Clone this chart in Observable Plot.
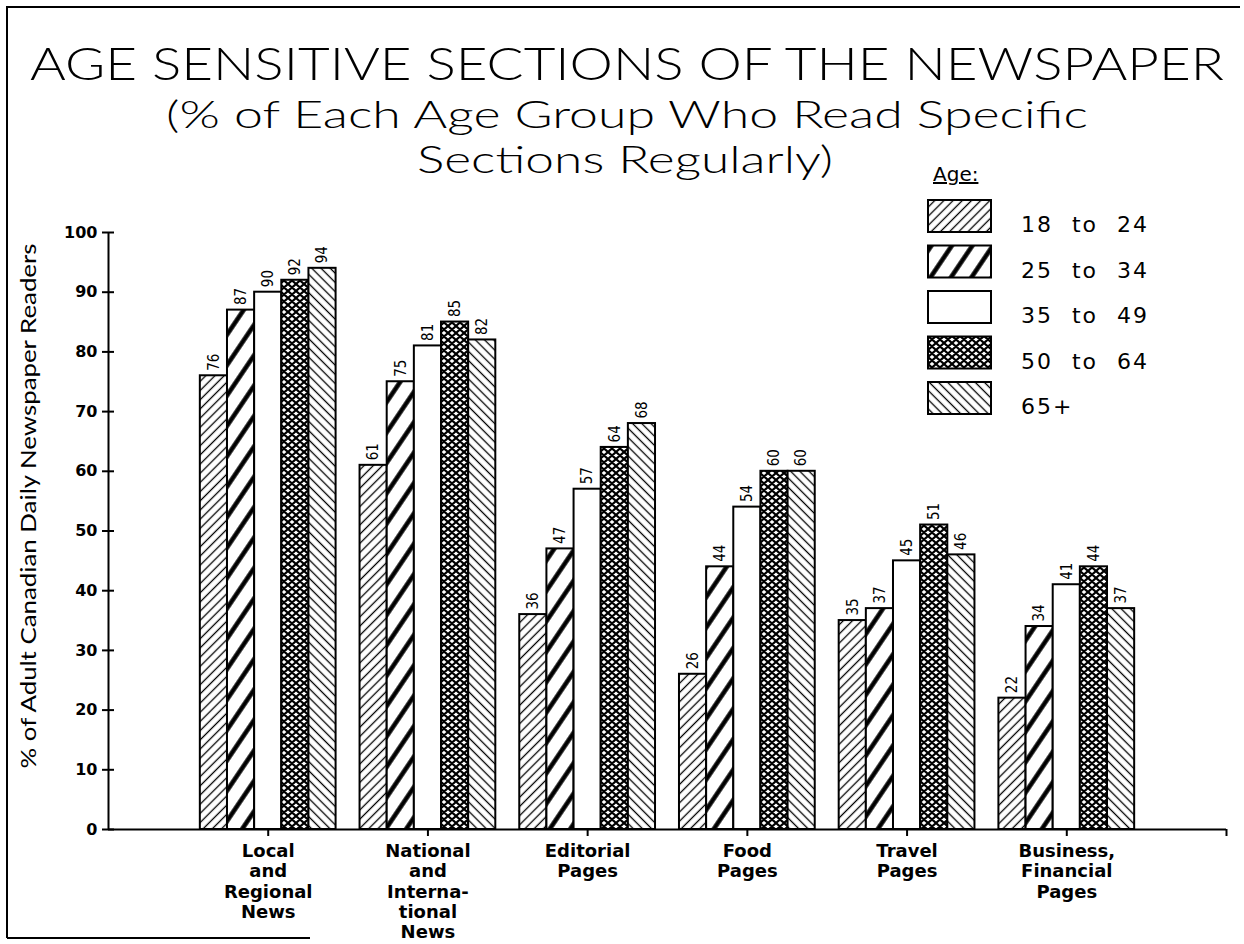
<!DOCTYPE html>
<html>
<head>
<meta charset="utf-8">
<script src="https://cdn.jsdelivr.net/npm/d3@7"></script>
<script src="https://cdn.jsdelivr.net/npm/@observablehq/plot@0.6"></script>
<style>
html,body{margin:0;padding:0;background:#fff;}
#page{position:relative;width:1244px;height:944px;overflow:hidden;background:#fff;}
#chart{position:absolute;left:0;top:200px;}
#overlay{position:absolute;left:0;top:0;pointer-events:none;}
</style>
</head>
<body>
<div id="page">
  <div id="chart"></div>
  <svg id="overlay" width="1244" height="944"></svg>
</div>
<script>
// ---------- data ----------
const title = "AGE SENSITIVE SECTIONS OF THE NEWSPAPER";
const subtitleLines = ["(% of Each Age Group Who Read Specific", "Sections Regularly)"];
const yLabel = "% of Adult Canadian Daily Newspaper Readers";
const legendTitle = "Age:";
const categories = [
  "Local\nand\nRegional\nNews",
  "National\nand\nInterna-\ntional\nNews",
  "Editorial\nPages",
  "Food\nPages",
  "Travel\nPages",
  "Business,\nFinancial\nPages"
];
const ageGroups = ["18 to 24", "25 to 34", "35 to 49", "50 to 64", "65+"];
const age18to24 = [76, 61, 36, 26, 35, 22];
const age25to34 = [87, 75, 47, 44, 37, 34];
const age35to49 = [90, 81, 57, 54, 45, 41];
const age50to64 = [92, 85, 64, 60, 51, 44];
const age65plus = [94, 82, 68, 60, 46, 37];
const yTicks = [0, 10, 20, 30, 40, 50, 60, 70, 80, 90, 100];

// ---------- styles ----------
const patternIds = ["pat18", "pat25", "pat35", "pat50", "pat65"];
const seriesValues = [age18to24, age25to34, age35to49, age50to64, age65plus];
const barW = 0.17;

const table = [];
categories.forEach((c, ci) => {
  seriesValues.forEach((vals, ai) => {
    table.push({category: c, ci, age: ageGroups[ai], ai, value: vals[ci]});
  });
});
const xDomain = [-1, categories.length];

// ---------- overlay: patterns, border, title, legend ----------
const ov = d3.select("#overlay");
const defs = ov.append("defs");
function linePattern(id, size, angle, sw) {
  const p = defs.append("pattern").attr("id", id).attr("patternUnits", "userSpaceOnUse")
    .attr("width", size).attr("height", size).attr("patternTransform", `rotate(${angle})`);
  p.append("rect").attr("width", size).attr("height", size).attr("fill", "#fff");
  p.append("line").attr("x1", size / 2).attr("x2", size / 2).attr("y1", -1).attr("y2", size + 1)
    .attr("stroke", "#000").attr("stroke-width", sw);
}
linePattern("pat18", 6.5, 45, 1.3);
linePattern("pat25", 17, 34, 4.5);
linePattern("pat65", 6.5, -45, 1.3);
{
  const p = defs.append("pattern").attr("id", "pat35").attr("patternUnits", "userSpaceOnUse")
    .attr("width", 10).attr("height", 10);
  p.append("rect").attr("width", 10).attr("height", 10).attr("fill", "#fff");
}
{
  const w = 8, h = 7;
  const p = defs.append("pattern").attr("id", "pat50").attr("patternUnits", "userSpaceOnUse")
    .attr("width", w).attr("height", h);
  p.append("rect").attr("width", w).attr("height", h).attr("fill", "#fff");
  p.append("path").attr("d", `M0,0L${w},${h}M${w},0L0,${h}M-1,${h-1}L1,${h+1}M${w-1},-1L${w+1},1M-1,1L1,-1M${w-1},${h+1}L${w+1},${h-1}`)
    .attr("stroke", "#000").attr("stroke-width", 2.1);
}

// border of the scanned page
ov.append("path").attr("d", "M7,938V7H1240M7,938H310").attr("fill", "none")
  .attr("stroke", "#000").attr("stroke-width", 2);

const lightFont = "Lato, 'Open Sans', sans-serif";
ov.append("text").attr("x", 30).attr("y", 80).attr("textLength", 1194).attr("lengthAdjust", "spacingAndGlyphs")
  .attr("font-family", lightFont).attr("font-weight", 300).attr("font-size", 45).text(title);
ov.append("text").attr("x", 166).attr("y", 128).attr("textLength", 922).attr("lengthAdjust", "spacingAndGlyphs")
  .attr("font-family", lightFont).attr("font-weight", 300).attr("font-size", 37).text(subtitleLines[0]);
ov.append("text").attr("x", 417).attr("y", 173).attr("textLength", 416).attr("lengthAdjust", "spacingAndGlyphs")
  .attr("font-family", lightFont).attr("font-weight", 300).attr("font-size", 37).text(subtitleLines[1]);

// legend
ov.append("text").attr("x", 933).attr("y", 181).attr("font-family", "'DejaVu Sans', sans-serif")
  .attr("font-size", 20).attr("text-decoration", "underline").text(legendTitle);
const legendTops = ageGroups.map((g, i) => 200 + i * 45.5);
ageGroups.forEach((g, i) => {
  const y0 = legendTops[i];
  ov.append("rect").attr("x", 928).attr("y", y0).attr("width", 63).attr("height", 32)
    .attr("fill", `url(#${patternIds[i]})`).attr("stroke", "#000").attr("stroke-width", 2);
  ov.append("text").attr("x", 1021).attr("y", y0 + 32).attr("font-family", "'DejaVu Sans', sans-serif")
    .attr("font-size", 22).attr("letter-spacing", 2).attr("word-spacing", 10).text(g);
});

// ---------- chart ----------
const chart = Plot.plot({
  width: 1244,
  height: 744,
  marginLeft: 108,
  marginRight: 18,
  marginTop: 32,
  marginBottom: 115,
  x: {domain: xDomain, axis: null},
  y: {domain: [0, 100], axis: null},
  style: {background: "transparent", color: "#000", overflow: "visible"},
  marks: [
    ...ageGroups.map((g, ai) => Plot.rect(table.filter(d => d.ai === ai), {
      x1: d => d.ci + (ai - 2.5) * barW,
      x2: d => d.ci + (ai - 1.5) * barW,
      y1: 0,
      y2: "value",
      fill: `url(#${patternIds[ai]})`,
      stroke: "#000",
      strokeWidth: 2
    })),
    Plot.text(table, {
      x: d => d.ci + (d.ai - 2) * barW,
      y: "value",
      text: d => String(d.value),
      rotate: -90,
      textAnchor: "start",
      dy: -5,
      fontSize: 15,
      fontFamily: "'DejaVu Sans Condensed', 'DejaVu Sans', sans-serif",
      fill: "#000"
    }),
    Plot.ruleY([0], {strokeWidth: 2}),
    Plot.ruleX([xDomain[0]], {strokeWidth: 2}),
    Plot.axisY({
      ticks: yTicks, label: null, tickSize: 12, dx: 6, tickPadding: 5, strokeWidth: 2,
      fontSize: 16, fontWeight: "bold", fontFamily: "'DejaVu Sans', sans-serif"
    }),
    Plot.axisX({
      ticks: d3.range(0, categories.length + 1), label: null,
      tickFormat: i => categories[i] ?? "",
      tickSize: 7, tickPadding: 6, strokeWidth: 2, lineHeight: 1.13,
      fontSize: 18, fontWeight: "bold", fontFamily: "'DejaVu Sans', sans-serif"
    }),
    Plot.text([yLabel], {
      frameAnchor: "left", text: d => d, rotate: -90, textAnchor: "middle", dx: -80, dy: -25,
      fontSize: 22, fontWeight: 400, fontFamily: lightFont, fill: "#000"
    })
  ]
});
d3.select(chart).selectAll("text").filter(function () { return this.textContent === yLabel; })
  .attr("textLength", 525).attr("lengthAdjust", "spacingAndGlyphs");
document.getElementById("chart").appendChild(chart);
</script>
</body>
</html>
